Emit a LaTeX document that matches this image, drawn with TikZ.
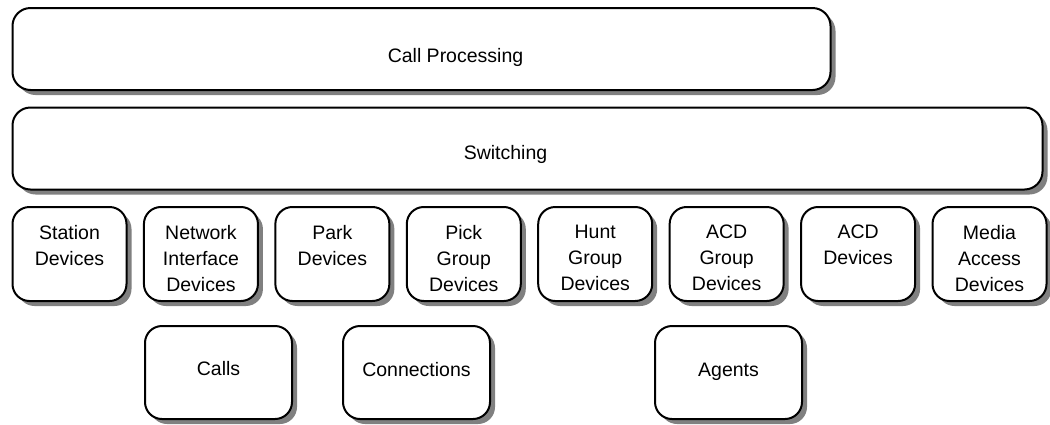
\documentclass[tikz,border=0pt]{standalone}
\usepackage{fontspec}
\setmainfont{Liberation Sans}
\usetikzlibrary{shadows}
\begin{document}
\begin{tikzpicture}[x=1pt,y=-1pt,
  box/.style={draw=black, line width=2pt, fill=white, rounded corners=17pt, inner sep=0pt,
    drop shadow={shadow xshift=5pt, shadow yshift=-5pt, fill=black!50, opacity=1}},
  bigbox/.style={box, rounded corners=18pt, minimum height=82pt},
  smallbox/.style={box, minimum width=114pt, minimum height=94pt},
  lowbox/.style={box, minimum width=147pt, minimum height=93pt},
  txt/.style={inner sep=0pt, align=center, font=\fontsize{19.5}{26}\selectfont}
]
\useasboundingbox (0,0) rectangle (1050,424);
% top boxes
\node[bigbox, minimum width=818pt] (cp) at (421.5,49) {};
\node[txt, anchor=base] (cpt) at (455.5,62) {Call Processing};
\node[bigbox, minimum width=1030pt] (sw) at (527.5,148.5) {};
\node[txt, anchor=base] (swt) at (505.5,159) {Switching};
% device row
\foreach \i/\name/\label in {0/st/{Station\\Devices},1/ni/{Network\\Interface\\Devices},2/pk/{Park\\Devices},3/pg/{Pick\\Group\\Devices},4/hg/{Hunt\\Group\\Devices},5/ag/{ACD\\Group\\Devices},6/acd/{ACD\\Devices},7/ma/{Media\\Access\\Devices}}{
  \node[smallbox] (\name) at ({69.5+131.43*\i},254) {};
  \node[txt, anchor=north] (\name t) at ({69.5+131.43*\i},224.7) {\label};
}
% bottom row
\node[lowbox] (calls) at (218.5,372.5) {};
\node[txt, anchor=base] (callst) at (218.5,375) {Calls};
\node[lowbox] (conn) at (416.5,372.5) {};
\node[txt, anchor=base] (connt) at (416.5,376) {Connections};
\node[lowbox] (agents) at (728.5,372.5) {};
\node[txt, anchor=base] (agentst) at (728.5,376) {Agents};
\end{tikzpicture}
\end{document}
